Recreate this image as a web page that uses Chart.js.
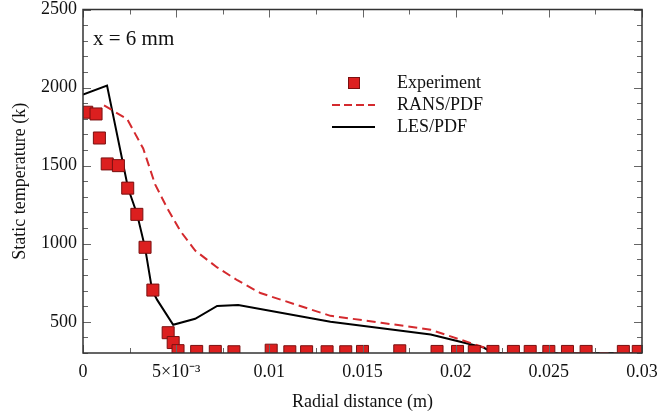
<!DOCTYPE html>
<html>
<head>
<meta charset="utf-8">
<script src="https://cdn.jsdelivr.net/npm/chart.js@4/dist/chart.umd.min.js"></script>
<style>
html,body{margin:0;padding:0;background:#fff;}
#wrap{width:665px;height:417px;position:relative;}
</style>
</head>
<body>
<div id="wrap"><canvas id="c" width="665" height="417"></canvas></div>
<script>
// ---- data ----
const expX = [0.0002, 0.0007, 0.00088, 0.0013, 0.0019, 0.0024, 0.00289, 0.00333, 0.00375, 0.00457, 0.00484, 0.0051, 0.0061, 0.0071, 0.0081, 0.0101, 0.0111, 0.012, 0.0131, 0.0141, 0.015, 0.017, 0.019, 0.0201, 0.021, 0.022, 0.0231, 0.024, 0.025, 0.026, 0.027, 0.029, 0.0298];
const expY = [1842, 1831, 1677, 1511, 1500, 1356, 1188, 977, 703, 430, 367, 315, 310, 310, 308, 318, 308, 308, 308, 308, 310, 314, 310, 310, 310, 310, 310, 310, 310, 310, 310, 310, 310];

const ransX = [0.00113, 0.00237, 0.00323, 0.00387, 0.00452, 0.00522, 0.00602, 0.0072, 0.00828, 0.00952, 0.01328, 0.016, 0.01866, 0.0216, 0.022, 0.03];
const ransY = [1886, 1798, 1610, 1380, 1228, 1082, 956, 848, 766, 684, 538, 494, 449, 332, 300, 300];

const lesX = [0, 0.00129, 0.00242, 0.0029, 0.00333, 0.00371, 0.00398, 0.00484, 0.00602, 0.0072, 0.00833, 0.01328, 0.01866, 0.0215, 0.022, 0.03];
const lesY = [1955, 2013, 1355, 1190, 975, 703, 640, 481, 519, 601, 608, 500, 418, 335, 300, 300];

const xTickLabels = {"0":"0","0.005":"5×10⁻³","0.01":"0.01","0.015":"0.015","0.02":"0.02","0.025":"0.025","0.03":"0.03"};
const yTickLabels = [500, 1000, 1500, 2000, 2500];

const seriesNames = ["Experiment", "RANS/PDF", "LES/PDF"];
const annotationText = "x = 6 mm";

const zip = (xs, ys) => xs.map((v, i) => ({x: v, y: ys[i]}));

const RED = '#dc1f1f';
const RED_EDGE = '#7a1010';
const DASH_RED = '#d42a2e';
const SERIF = "'Liberation Serif', 'Times New Roman', serif";

Chart.defaults.font.family = SERIF;
Chart.defaults.color = '#111';

const xKey = v => (Math.round(v * 10000) / 10000).toString();

const framePlugin = {
  id: 'frame',
  afterDatasetsDraw(chart) {
    const ctx = chart.ctx;
    const {left, right, top, bottom} = chart.chartArea;
    const xs = chart.scales.x, ys = chart.scales.y;
    ctx.save();
    // inward ticks
    ctx.strokeStyle = '#666';
    ctx.lineWidth = 1;
    ctx.beginPath();
    xs.ticks.forEach(t => {
      const tl = xTickLabels[xKey(t.value)] !== undefined ? 8 : 5;
      const px = Math.round(xs.getPixelForValue(t.value)) + 0.5;
      ctx.moveTo(px, bottom); ctx.lineTo(px, bottom - tl);
      ctx.moveTo(px, top); ctx.lineTo(px, top + tl);
    });
    ys.ticks.forEach(t => {
      const tl = yTickLabels.includes(Math.round(t.value)) ? 8 : 5;
      const py = Math.round(ys.getPixelForValue(t.value)) + 0.5;
      ctx.moveTo(left, py); ctx.lineTo(left + tl, py);
      ctx.moveTo(right, py); ctx.lineTo(right - tl, py);
    });
    ctx.stroke();
    // frame
    ctx.strokeStyle = '#333';
    ctx.lineWidth = 1.5;
    ctx.strokeRect(left, top, right - left, bottom - top);

    // annotation
    ctx.fillStyle = '#111';
    ctx.font = "21px " + SERIF;
    ctx.textBaseline = 'middle';
    ctx.textAlign = 'left';
    ctx.fillText(annotationText, 93, 39);

    // legend
    ctx.font = "18px " + SERIF;
    const lx0 = 332, lx1 = 375, tx = 397;
    const rows = [83, 105, 127];
    ctx.fillStyle = RED; ctx.strokeStyle = RED_EDGE; ctx.lineWidth = 1;
    ctx.fillRect(348, rows[0] - 6, 12, 12);
    ctx.strokeRect(348.5, rows[0] - 5.5, 11, 11);
    ctx.strokeStyle = DASH_RED; ctx.lineWidth = 2; ctx.setLineDash([8, 4]);
    ctx.beginPath(); ctx.moveTo(lx0, rows[1]); ctx.lineTo(lx1, rows[1]); ctx.stroke();
    ctx.setLineDash([]);
    ctx.strokeStyle = '#000'; ctx.lineWidth = 2;
    ctx.beginPath(); ctx.moveTo(lx0, rows[2]); ctx.lineTo(lx1, rows[2]); ctx.stroke();
    ctx.fillStyle = '#111';
    seriesNames.forEach((n, i) => ctx.fillText(n, tx, rows[i]));
    ctx.restore();
  }
};

new Chart(document.getElementById('c'), {
  type: 'scatter',
  data: {
    datasets: [
      {
        label: seriesNames[0],
        data: zip(expX, expY),
        pointStyle: 'rect',
        pointRadius: 8.5,
        pointBackgroundColor: RED,
        pointBorderColor: RED_EDGE,
        pointBorderWidth: 1,
        showLine: false,
        clip: 0
      },
      {
        label: seriesNames[1],
        data: zip(ransX, ransY),
        showLine: true,
        pointRadius: 0,
        borderColor: DASH_RED,
        borderWidth: 2,
        borderDash: [9, 5],
        tension: 0,
        clip: 0
      },
      {
        label: seriesNames[2],
        data: zip(lesX, lesY),
        showLine: true,
        pointRadius: 0,
        borderColor: '#000',
        borderWidth: 2,
        tension: 0,
        clip: 0
      }
    ]
  },
  options: {
    responsive: false,
    animation: false,
    events: [],
    layout: {padding: {top: 8, right: 23, left: 0, bottom: 0}},
    plugins: {legend: {display: false}, tooltip: {enabled: false}},
    scales: {
      x: {
        type: 'linear',
        min: 0, max: 0.03,
        grid: {display: false, drawTicks: false},
        border: {display: false},
        afterFit(s) { s.height = 64; s.paddingLeft = 0; s.paddingRight = 0; },
        ticks: {
          stepSize: 0.0025,
          autoSkip: false,
          maxRotation: 0,
          padding: 8,
          font: {size: 18},
          color: '#111',
          callback(v) {
            const k = xKey(v);
            return xTickLabels[k] !== undefined ? xTickLabels[k] : '';
          }
        },
        title: {display: true, text: 'Radial distance (m)', font: {size: 18}, color: '#111', padding: {top: 0, bottom: 4}}
      },
      y: {
        type: 'linear',
        min: 300, max: 2500,
        grid: {display: false, drawTicks: false},
        border: {display: false},
        afterFit(s) { s.width = 83; s.paddingTop = 0; s.paddingBottom = 0; },
        ticks: {
          stepSize: 100,
          autoSkip: false,
          padding: 6,
          font: {size: 18},
          color: '#111',
          callback(v) { return yTickLabels.includes(Math.round(v)) ? String(Math.round(v)) : ''; }
        },
        title: {display: true, text: 'Static temperature (k)', font: {size: 18}, color: '#111', padding: {top: 9, bottom: 0}}
      }
    }
  },
  plugins: [framePlugin]
});
</script>
</body>
</html>
